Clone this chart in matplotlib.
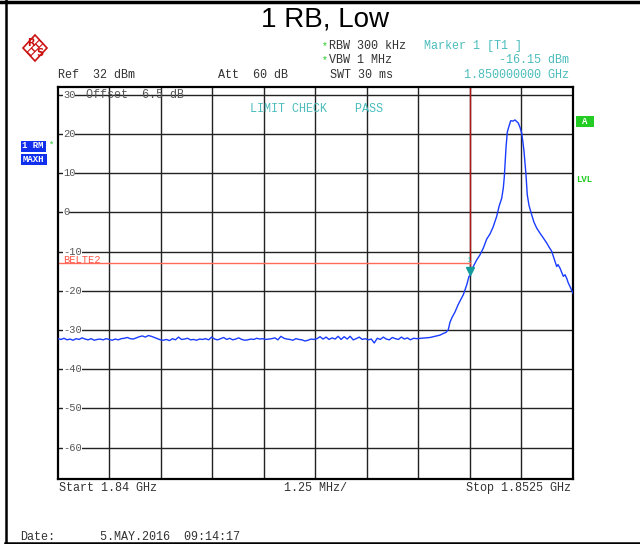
import numpy as np
import matplotlib
matplotlib.use("Agg")
import matplotlib.pyplot as plt
from matplotlib.patches import Polygon, Rectangle
from matplotlib.lines import Line2D

# ---------------- data ----------------
start_mhz = 1840.0
stop_mhz = 1852.5
span_div_mhz = 1.25
ref_level = 32
y_bottom = -68
y_ticks = [30, 20, 10, 0, -10, -20, -30, -40, -50, -60]
limit_level = -13.0
limit_stop_mhz = 1850.0
marker_freq_mhz = 1850.0
marker_level = -16.15

# noise floor levels (dBm), uniform sweep 1840.0 .. 1848.7 MHz
noise_start_mhz = 1840.0
noise_stop_mhz = 1848.7
noise_levels = [
    -32.2, -32.4, -32.1, -32.5, -32.3, -32.6, -32.2, -32.4, -32.0, -32.3, -32.5, -32.2, -32.6, -32.4, -32.3, -32.5, -32.2,
    -32.4, -32.6, -32.3, -32.5, -32.2, -32.1, -31.9, -32.2, -32.3, -32.0, -31.7, -31.5, -31.8, -31.4, -31.6, -31.9, -32.2, -32.5, -32.6,
    -32.4, -32.7, -32.2, -32.5, -31.8, -32.4, -32.3, -32.1, -32.5, -32.4, -32.6, -32.3, -32.4, -32.2, -32.5,
    -31.8, -32.3, -32.5, -32.2, -31.9, -32.4, -32.1, -32.5, -32.3, -32.0, -32.4, -32.6, -32.5, -32.3, -32.4, -32.1,
    -32.3, -32.2, -32.4, -32.3, -32.2, -32.0, -32.5, -31.6, -32.1, -32.3, -32.4, -32.6, -32.2, -32.4, -32.5, -32.8, -32.6, -32.3, -32.4,
    -32.2, -31.7, -32.3, -31.8, -32.4, -32.0, -32.3, -31.6, -32.4, -31.7, -32.3, -31.6, -32.5, -32.2, -31.8, -32.4, -32.2, -32.5, -32.3, -33.3,
    -32.1, -32.4, -31.8, -32.3, -32.5, -31.9, -32.2, -32.4, -31.8, -32.3, -32.0, -32.5, -32.1, -32.2,
]

# signal region (MHz, dBm)
sig_freq = [1848.908, 1849.029, 1849.151, 1849.272, 1849.345, 1849.417, 1849.473, 1849.515, 1849.563,
            1849.636, 1849.709, 1849.757, 1849.837, 1849.920, 1849.976, 1850.000, 1850.080, 1850.163,
            1850.243, 1850.323, 1850.405, 1850.485, 1850.558, 1850.648, 1850.704, 1850.769, 1850.808,
            1850.832, 1850.849, 1850.874, 1850.905, 1850.946, 1850.988, 1851.044, 1851.092, 1851.141,
            1851.172, 1851.214, 1851.255, 1851.286, 1851.311, 1851.335, 1851.359, 1851.390, 1851.432,
            1851.497, 1851.553, 1851.619, 1851.699, 1851.779, 1851.862, 1851.917, 1851.983, 1852.022,
            1852.063, 1852.104, 1852.136, 1852.184, 1852.233, 1852.265, 1852.306, 1852.347, 1852.386,
            1852.427, 1852.500]
sig_level = [-32.0, -31.9, -31.6, -31.3, -30.9, -30.6, -29.9, -28.0, -26.8,
             -25.4, -23.6, -22.6, -21.0, -18.5, -16.3, -16.15, -13.8, -12.1,
             -10.8, -9.1, -6.8, -5.5, -3.8, -1.0, 1.5, 3.6, 6.2,
             9.0, 12.2, 16.5, 20.5, 22.0, 23.4, 23.3, 23.6, 23.1,
             22.8, 21.7, 20.2, 17.8, 15.6, 12.5, 9.6, 4.5, 1.8,
             -0.6, -2.5, -4.0, -5.3, -6.5, -7.8, -8.8, -9.9, -11.2,
             -12.5, -13.8, -13.3, -14.2, -15.5, -16.3, -15.9, -16.8, -18.0,
             -18.9, -20.6]

# ---------------- figure ----------------
W, H = 640, 544
fig = plt.figure(figsize=(W / 100, H / 100), dpi=100)
fig.patch.set_facecolor("white")

def fx(px):
    return px / W

def fy(py):
    return 1 - py / H

TEAL = "#4cbcbc"
GRAY = "#555555"
MONO = "Liberation Mono"

# outer border
fig.add_artist(Line2D([0, 1], [fy(1.5), fy(1.5)], color="black", lw=2.5, transform=fig.transFigure))
fig.add_artist(Line2D([fx(5.5), fx(5.5)], [fy(0), fy(543)], color="black", lw=1.8, transform=fig.transFigure))
fig.add_artist(Line2D([fx(5), 1], [fy(543), fy(543)], color="black", lw=1.8, transform=fig.transFigure))

# title
fig.text(fx(325), fy(19), "1 RB, Low", fontsize=20, family="Liberation Sans",
         ha="center", va="center", color="black")

# R&S logo
RED = "#cc1111"
cx, cy, rx, ry = 35, 48, 12, 13
diamond = Polygon([[fx(cx), fy(cy - ry)], [fx(cx + rx), fy(cy)], [fx(cx), fy(cy + ry)], [fx(cx - rx), fy(cy)]],
                  closed=True, facecolor="white", edgecolor=RED, lw=1.2, transform=fig.transFigure)
fig.add_artist(diamond)
bw = 1.8
band = Polygon([[fx(cx - 6 - bw), fy(cy + 6 - bw)], [fx(cx + 6 - bw), fy(cy - 6 - bw)],
                [fx(cx + 6 + bw), fy(cy - 6 + bw)], [fx(cx - 6 + bw), fy(cy + 6 + bw)]],
               closed=True, facecolor="white", edgecolor=RED, lw=0.8, hatch="\\\\\\\\",
               transform=fig.transFigure)
fig.add_artist(band)
fig.text(fx(cx - 4.5), fy(cy - 5), "R", fontsize=7, color=RED, ha="center", va="center", weight="bold")
fig.text(fx(cx + 4.5), fy(cy + 5.5), "S", fontsize=7, color=RED, ha="center", va="center", weight="bold")

# header text
hfs = 8.5
fig.text(fx(322), fy(46), "*", fontsize=7, family=MONO, color="#22cc22", ha="left", va="center")
fig.text(fx(329), fy(46), "RBW 300 kHz", fontsize=hfs, family=MONO, color="#333333", ha="left", va="center")
fig.text(fx(322), fy(60), "*", fontsize=7, family=MONO, color="#22cc22", ha="left", va="center")
fig.text(fx(329), fy(60), "VBW 1 MHz", fontsize=hfs, family=MONO, color="#333333", ha="left", va="center")
fig.text(fx(330), fy(75), "SWT 30 ms", fontsize=hfs, family=MONO, color="#333333", ha="left", va="center")
fig.text(fx(58), fy(75), "Ref  32 dBm", fontsize=hfs, family=MONO, color="#333333", ha="left", va="center")
fig.text(fx(218), fy(75), "Att  60 dB", fontsize=hfs, family=MONO, color="#333333", ha="left", va="center")
fig.text(fx(424), fy(46), "Marker 1 [T1 ]", fontsize=hfs, family=MONO, color=TEAL, ha="left", va="center")
fig.text(fx(569), fy(60), "-16.15 dBm", fontsize=hfs, family=MONO, color=TEAL, ha="right", va="center")
fig.text(fx(569), fy(75), "1.850000000 GHz", fontsize=hfs, family=MONO, color=TEAL, ha="right", va="center")

# footer
fig.text(fx(59), fy(488), "Start 1.84 GHz", fontsize=hfs, family=MONO, color="#333333", ha="left", va="center")
fig.text(fx(284), fy(488), "1.25 MHz/", fontsize=hfs, family=MONO, color="#333333", ha="left", va="center")
fig.text(fx(571), fy(488), "Stop 1.8525 GHz", fontsize=hfs, family=MONO, color="#333333", ha="right", va="center")
fig.text(fx(20), fy(537), "Date:", fontsize=hfs, family=MONO, color="#333333", ha="left", va="center")
fig.text(fx(100), fy(537), "5.MAY.2016  09:14:17", fontsize=hfs, family=MONO, color="#333333", ha="left", va="center")

# side labels
fig.add_artist(Rectangle((fx(21), fy(151.5)), fx(25), 10.5 / H, facecolor="#1030ee", edgecolor="none",
                         transform=fig.transFigure))
fig.text(fx(22.5), fy(146), "1 RM", fontsize=6.5, family=MONO, color="white", weight="bold", ha="left", va="center")
fig.text(fx(49), fy(145), "*", fontsize=6.5, family=MONO, color="#22cc22", ha="left", va="center")
fig.add_artist(Rectangle((fx(21), fy(164.5)), fx(26), 10.5 / H, facecolor="#1030ee", edgecolor="none",
                         transform=fig.transFigure))
fig.text(fx(22.5), fy(159.5), "MAXH", fontsize=6.5, family=MONO, color="white", weight="bold", ha="left", va="center")
fig.add_artist(Rectangle((fx(576), fy(126.5)), fx(18), 10.5 / H, facecolor="#22cc22", edgecolor="none",
                         transform=fig.transFigure))
fig.text(fx(585), fy(121.5), "A", fontsize=6.5, family=MONO, color="white", weight="bold", ha="center", va="center")
fig.text(fx(576), fy(180), "LVL", fontsize=6.5, family=MONO, color="#22cc22", weight="bold", ha="left", va="center")

# ---------------- axes ----------------
ax_l, ax_r, ax_t, ax_b = 58, 573, 87, 479
ax = fig.add_axes([fx(ax_l), fy(ax_b), fx(ax_r - ax_l), (ax_b - ax_t) / H])
ax.set_xlim(start_mhz, stop_mhz)
ax.set_ylim(y_bottom, ref_level)
for s in ax.spines.values():
    s.set_linewidth(1.6)
    s.set_color("black")
ax.set_xticks([])
ax.set_yticks([])

n_div = int(round((stop_mhz - start_mhz) / span_div_mhz))
for k in range(1, n_div):
    ax.axvline(start_mhz + k * span_div_mhz, color="#222222", lw=1.0, zorder=1)
for yv in y_ticks:
    ax.axhline(yv, color="#222222", lw=1.0, zorder=1)
    ax.text(start_mhz + 0.12, yv, "%d" % yv, fontsize=7.5, family=MONO, color=GRAY,
            ha="left", va="center", zorder=3,
            bbox=dict(facecolor="white", edgecolor="none", pad=0.0))

# limit lines
ax.plot([marker_freq_mhz, marker_freq_mhz], [marker_level + 1.0, ref_level], color="#b01818", lw=1.0, zorder=2)
ax.plot([start_mhz, limit_stop_mhz], [limit_level, limit_level], color="#ff6a5a", lw=1.0, zorder=2)

# texts inside
ax.text(1840.68, 30, "Offset  6.5 dB", fontsize=hfs, family=MONO, color=GRAY, ha="left", va="center", zorder=3)
ax.text(1844.66, 26.3, "LIMIT CHECK    PASS", fontsize=hfs, family=MONO, color=TEAL, ha="left", va="center", zorder=3)
ax.text(1840.12, -12.1, "BELTE2", fontsize=7.5, family=MONO, color="#ff5544", ha="left", va="center", zorder=3)

# trace
noise_freq = np.linspace(noise_start_mhz, noise_stop_mhz, len(noise_levels))
freq = np.concatenate([noise_freq, np.array(sig_freq)])
level = np.concatenate([np.array(noise_levels), np.array(sig_level)])
ax.plot(freq, level, color="#1a3cff", lw=1.0, zorder=4)

# marker
ax.plot([marker_freq_mhz], [marker_level + 1.3], marker="v", markersize=6, color="#149b9b", zorder=5)
ax.text(marker_freq_mhz - 0.03, marker_level + 3.8, "1", fontsize=5.5, family=MONO, color=TEAL,
        ha="center", va="center", zorder=5)

fig.savefig("out.png", dpi=100)
